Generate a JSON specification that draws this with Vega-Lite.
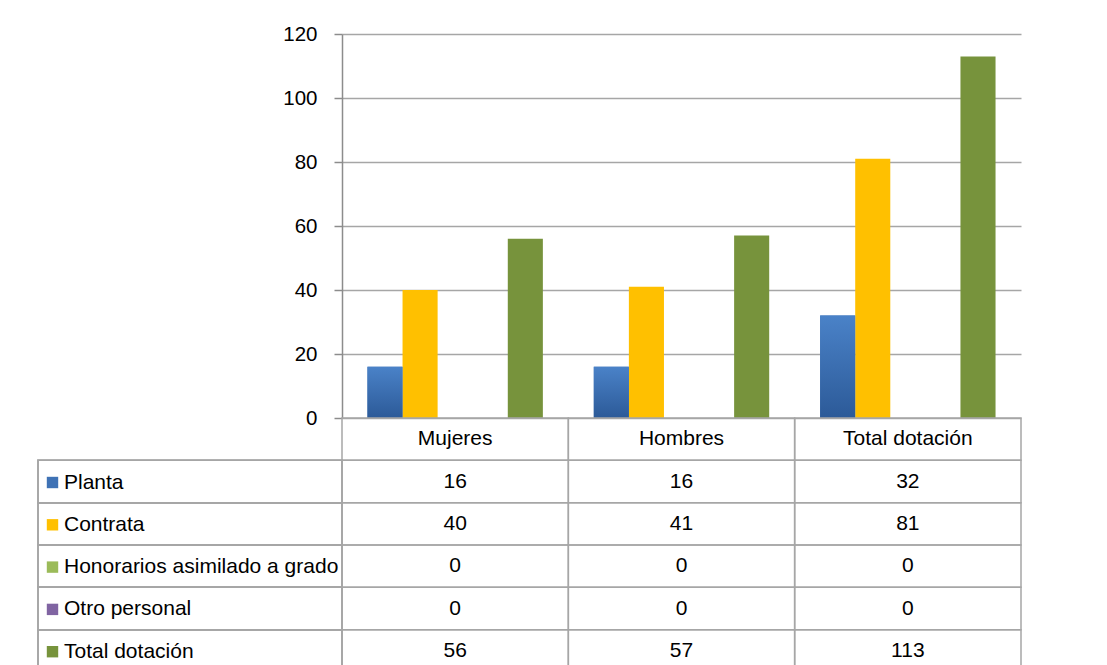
{
  "$schema": "https://vega.github.io/schema/vega-lite/v6.json",
  "background": "white",
  "padding": {"left": 37, "top": 24, "right": 0, "bottom": 0},
  "config": {"view": {"stroke": null}, "font": "Liberation Sans"},
  "datasets": {
    "main": [
      {"grupo": "Mujeres", "serie": "Planta", "valor": 16},
      {"grupo": "Mujeres", "serie": "Contrata", "valor": 40},
      {"grupo": "Mujeres", "serie": "Honorarios asimilado a grado", "valor": 0},
      {"grupo": "Mujeres", "serie": "Otro personal", "valor": 0},
      {"grupo": "Mujeres", "serie": "Total dotación", "valor": 56},
      {"grupo": "Hombres", "serie": "Planta", "valor": 16},
      {"grupo": "Hombres", "serie": "Contrata", "valor": 41},
      {"grupo": "Hombres", "serie": "Honorarios asimilado a grado", "valor": 0},
      {"grupo": "Hombres", "serie": "Otro personal", "valor": 0},
      {"grupo": "Hombres", "serie": "Total dotación", "valor": 57},
      {"grupo": "Total dotación", "serie": "Planta", "valor": 32},
      {"grupo": "Total dotación", "serie": "Contrata", "valor": 81},
      {"grupo": "Total dotación", "serie": "Honorarios asimilado a grado", "valor": 0},
      {"grupo": "Total dotación", "serie": "Otro personal", "valor": 0},
      {"grupo": "Total dotación", "serie": "Total dotación", "valor": 113}
    ],
    "header": [
      {"grupo": "Mujeres", "serie": "_header"},
      {"grupo": "Hombres", "serie": "_header"},
      {"grupo": "Total dotación", "serie": "_header"}
    ]
  },
  "columns": 2,
  "spacing": 0,
  "bounds": "flush",
  "resolve": {
    "scale": {"x": "independent", "y": "independent", "color": "independent", "xOffset": "independent"},
    "legend": {"color": "independent"}
  },
  "concat": [
    {
      "width": 304,
      "height": 384,
      "data": {"values": [{}]},
      "mark": {"type": "point", "opacity": 0},
      "encoding": {}
    },
    {
      "width": 679,
      "height": 384,
      "data": {"name": "main"},
      "encoding": {
        "x": {
          "field": "grupo", "type": "nominal",
          "sort": ["Mujeres", "Hombres", "Total dotación"],
          "scale": {"paddingInner": 0.225, "paddingOuter": 0.1125},
          "axis": null
        },
        "xOffset": {
          "field": "serie", "type": "nominal",
          "sort": ["Planta", "Contrata", "Honorarios asimilado a grado", "Otro personal", "Total dotación"],
          "scale": {"paddingInner": 0, "paddingOuter": 0}
        },
        "y": {
          "field": "valor", "type": "quantitative",
          "scale": {"domain": [0, 120], "nice": false},
          "axis": {
            "title": null,
            "values": [0, 20, 40, 60, 80, 100, 120],
            "domainColor": "#8c8c8c",
            "domainWidth": 1.5,
            "tickColor": "#8c8c8c",
            "tickWidth": 1.5,
            "tickSize": 8,
            "gridColor": "#a6a6a6",
            "gridWidth": 1.5,
            "labelPadding": 17,
            "labelFontSize": 20.5,
            "labelFont": "Liberation Sans",
            "labelColor": "#000000"
          }
        }
      },
      "layer": [
        {
          "mark": {"type": "bar"},
          "encoding": {
            "color": {
              "field": "serie", "type": "nominal",
              "scale": {
                "domain": ["Planta", "Contrata", "Honorarios asimilado a grado", "Otro personal", "Total dotación"],
                "range": ["#3f72b5", "#ffc000", "#9bbb59", "#8064a2", "#77933c"]
              },
              "legend": {
                "orient": "none",
                "legendX": -300,
                "legendY": 438,
                "title": null,
                "direction": "vertical",
                "symbolType": "square",
                "symbolSize": 130,
                "symbolStrokeWidth": 0,
                "symbolOpacity": 1,
                "labelFontSize": 21,
                "labelFont": "Liberation Sans",
                "labelColor": "#000000",
                "labelOffset": 1,
                "labelLimit": 400,
                "rowPadding": 20.3,
                "padding": 0,
                "zindex": 1
              }
            }
          }
        },
        {
          "transform": [{"filter": "datum.serie === 'Planta'"}],
          "mark": {
            "type": "bar",
            "color": {
              "gradient": "linear", "x1": 0, "y1": 0, "x2": 0, "y2": 1,
              "stops": [{"offset": 0, "color": "#4a82c8"}, {"offset": 1, "color": "#2c5a98"}]
            }
          }
        }
      ]
    },
    {
      "width": 304,
      "height": 254,
      "data": {"name": "main"},
      "mark": {"type": "rect", "filled": false, "stroke": "#a6a6a6", "strokeWidth": 1.5},
      "encoding": {
        "y": {
          "field": "serie", "type": "nominal",
          "scale": {"domain": ["_header", "Planta", "Contrata", "Honorarios asimilado a grado", "Otro personal", "Total dotación"], "paddingInner": 0, "paddingOuter": 0},
          "axis": null
        }
      }
    },
    {
      "width": 679,
      "height": 254,
      "encoding": {
        "x": {
          "field": "grupo", "type": "nominal",
          "sort": ["Mujeres", "Hombres", "Total dotación"],
          "scale": {"paddingInner": 0, "paddingOuter": 0},
          "axis": null
        },
        "y": {
          "field": "serie", "type": "nominal",
          "scale": {"domain": ["_header", "Planta", "Contrata", "Honorarios asimilado a grado", "Otro personal", "Total dotación"], "paddingInner": 0, "paddingOuter": 0},
          "axis": null
        }
      },
      "layer": [
        {
          "data": {"name": "main"},
          "mark": {"type": "rect", "filled": false, "stroke": "#a6a6a6", "strokeWidth": 1.5}
        },
        {
          "data": {"name": "header"},
          "mark": {"type": "rect", "filled": false, "stroke": "#a6a6a6", "strokeWidth": 1.5}
        },
        {
          "data": {"name": "main"},
          "mark": {"type": "text", "fontSize": 21, "font": "Liberation Sans", "color": "#000000", "baseline": "middle"},
          "encoding": {"text": {"field": "valor", "type": "quantitative"}}
        },
        {
          "data": {"name": "header"},
          "mark": {"type": "text", "fontSize": 21, "font": "Liberation Sans", "color": "#000000", "baseline": "middle"},
          "encoding": {"text": {"field": "grupo", "type": "nominal"}}
        }
      ]
    }
  ]
}
